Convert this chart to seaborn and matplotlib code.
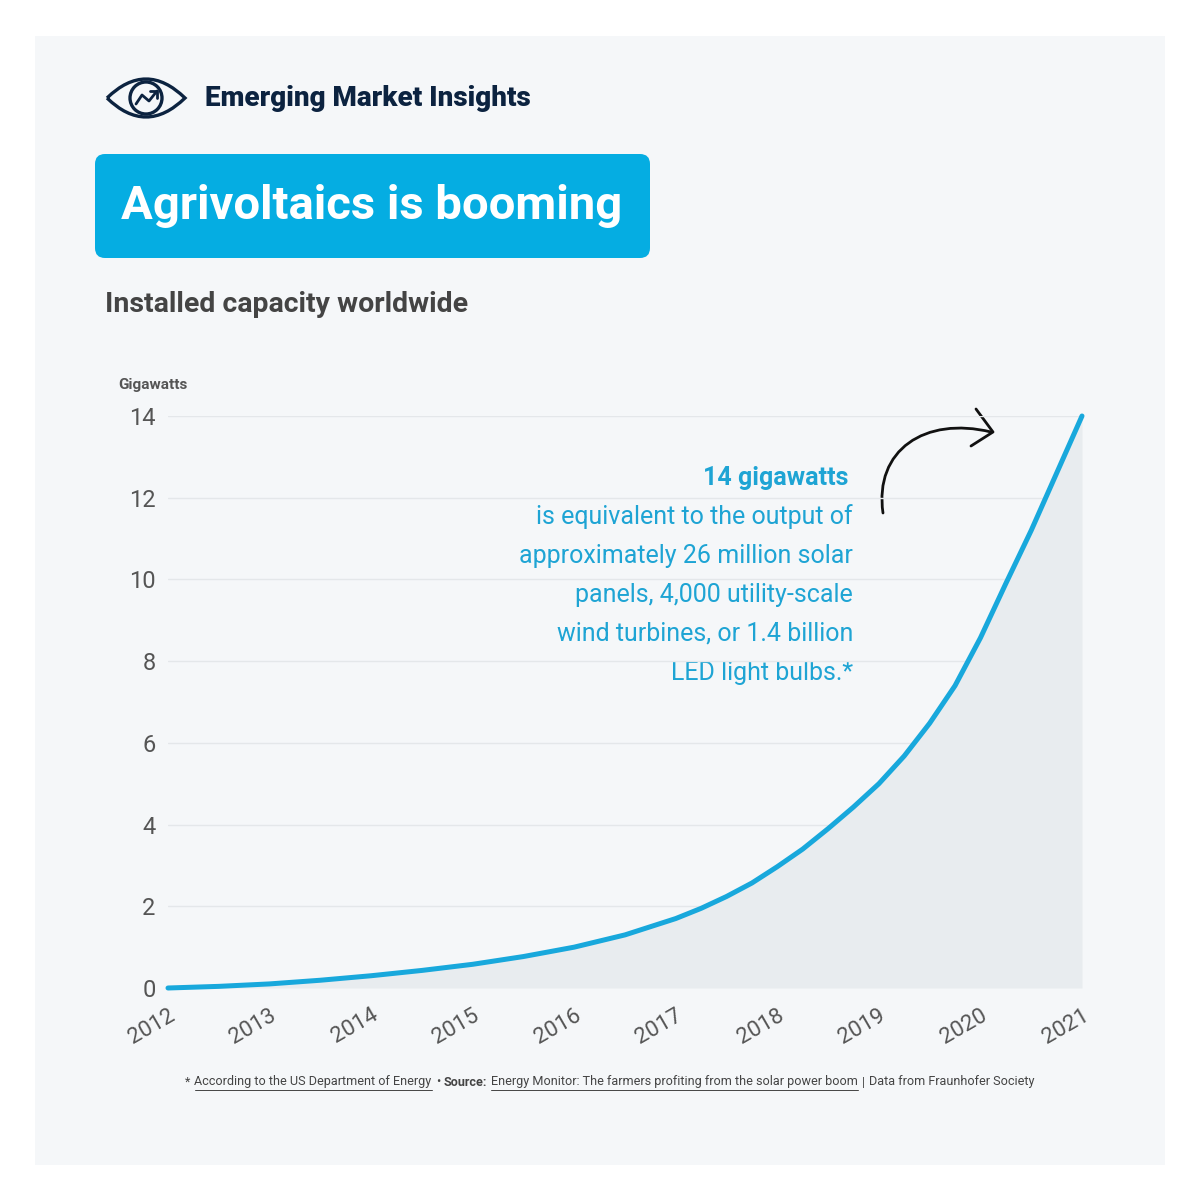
import numpy as np
import pandas as pd
import matplotlib
matplotlib.use("Agg")
import matplotlib.pyplot as plt
import seaborn as sns
from matplotlib.patches import FancyBboxPatch, Circle, PathPatch, Rectangle
from matplotlib.path import Path

# --- data (gigawatts) ---
years = [2012, 2012.5, 2013, 2013.5, 2014, 2014.5, 2015, 2015.5, 2016, 2016.5,
         2017, 2017.25, 2017.5, 2017.75, 2018, 2018.25, 2018.5, 2018.75,
         2019, 2019.25, 2019.5, 2019.75, 2020, 2020.25, 2020.5, 2020.75, 2021]
capacity_gw = [0.0, 0.04, 0.1, 0.19, 0.3, 0.43, 0.58, 0.77, 1.0, 1.3,
               1.7, 1.95, 2.24, 2.57, 2.97, 3.4, 3.9, 4.43,
               5.0, 5.68, 6.48, 7.4, 8.57, 9.9, 11.2, 12.6, 14.0]
year_ticks = list(range(2012, 2022))
gw_ticks = list(range(0, 15, 2))

brand = "Emerging Market Insights"
title = "Agrivoltaics is booming"
subtitle = "Installed capacity worldwide"
unit_label = "Gigawatts"
note_head = "14 gigawatts"
note_lines = ["is equivalent to the output of",
              "approximately 26 million solar",
              "panels, 4,000 utility-scale",
              "wind turbines, or 1.4 billion",
              "LED light bulbs.*"]
# (text, bold, underlined)
footer_parts = [("*", False, False),
                ("According to the US Department of Energy", False, True),
                ("•", False, False),
                ("Source:", True, False),
                ("Energy Monitor: The farmers profiting from the solar power boom", False, True),
                ("|", False, False),
                ("Data from Fraunhofer Society", False, False)]

# --- colours / fonts ---
NAVY = "#0c2340"
BLUE = "#05ade2"
LINE = "#18a8dc"
NOTE = "#1ea4d4"
GREY = "#555555"
PANEL = "#f5f7f9"
ROBOTO = ["Roboto", "DejaVu Sans"]

sns.set_theme(style="white")
plt.rcParams["font.family"] = ROBOTO

fig = plt.figure(figsize=(12, 12), dpi=100)
fig.patch.set_facecolor("white")

# full-figure overlay in pixel coordinates (y down)
bg = fig.add_axes([0, 0, 1, 1])
bg.set_xlim(0, 1200)
bg.set_ylim(1200, 0)
bg.axis("off")
bg.set_zorder(0)
bg.add_patch(Rectangle((35, 36), 1130, 1129, color=PANEL, lw=0))

# --- logo ---
eye = Path([(107, 98), (146, 60), (185, 98), (146, 136), (107, 98)],
           [Path.MOVETO, Path.CURVE3, Path.CURVE3, Path.CURVE3, Path.CURVE3])
bg.add_patch(PathPatch(eye, fill=False, ec=NAVY, lw=2.4, joinstyle="miter"))
bg.add_patch(Circle((146, 98), 16, fill=False, ec=NAVY, lw=2.4))
bg.plot([136, 142, 149, 157], [104, 95, 101, 91], color=NAVY, lw=2.0, solid_capstyle="round")
bg.plot([150, 157, 157], [91, 91, 98], color=NAVY, lw=2.0, solid_capstyle="round")
bg.text(205, 98, brand, fontsize=20, weight="heavy", color=NAVY, va="center", ha="left")

# --- title box ---
bg.add_patch(FancyBboxPatch((95, 154), 555, 104, boxstyle="round,pad=0,rounding_size=10",
                            fc=BLUE, ec="none"))
bg.text(372, 206, title, fontsize=34, weight="bold", color="white", ha="center", va="center")
bg.text(105, 305, subtitle, fontsize=20.5, weight="bold", color="#444444", ha="left", va="center")
bg.text(118, 385, unit_label, fontsize=11, weight="bold", color=GREY, ha="left", va="center")

# --- chart ---
ax = fig.add_axes([168 / 1200, 1 - 988 / 1200, (1082 - 168) / 1200, (988 - 416) / 1200])
ax.set_zorder(1)
ax.patch.set_alpha(0)

df = pd.DataFrame({"year": years, "gw": capacity_gw})
ax.fill_between(df["year"], df["gw"], color="#e8ecef", lw=0)
sns.lineplot(data=df, x="year", y="gw", ax=ax, color=LINE, lw=3.6,
             solid_capstyle="round", solid_joinstyle="round", clip_on=False)

ax.set_xlim(2012, 2021)
ax.set_ylim(0, 14)
ax.set_xticks(year_ticks)
ax.set_yticks(gw_ticks)
ax.set_xticklabels([str(y) for y in year_ticks], rotation=30, ha="right",
                   rotation_mode="anchor", fontsize=16, color=GREY)
ax.set_yticklabels([str(v) for v in gw_ticks], fontsize=17, color=GREY)
ax.set_xlabel("")
ax.set_ylabel("")
ax.yaxis.grid(True, color="#e4e7ea", lw=1)
ax.xaxis.grid(False)
for s in ax.spines.values():
    s.set_visible(False)
ax.tick_params(axis="y", length=0, pad=9)
ax.tick_params(axis="x", length=5, color="#e2e5e8", pad=7)

# --- annotation ---
bg.text(848, 478, note_head, fontsize=18, weight="bold", color=NOTE, ha="right", va="center",
        zorder=3)
for i, line in enumerate(note_lines):
    bg.text(853, 517 + 39 * i, line, fontsize=18, color=NOTE, ha="right", va="center", zorder=3)

arrow = Path([(883, 513), (874, 450), (925, 416), (991, 432)],
             [Path.MOVETO, Path.CURVE4, Path.CURVE4, Path.CURVE4])
bg.add_patch(PathPatch(arrow, fill=False, ec="#111111", lw=2.0, capstyle="round"))
bg.plot([976, 993, 971], [409, 432, 446], color="#111111", lw=2.0, solid_capstyle="round")

# --- footer, laid out piece by piece ---
renderer = fig.canvas.get_renderer()
texts = []
for piece, bold, under in footer_parts:
    t = bg.text(0, 1082, piece, fontsize=9.1, weight="bold" if bold else "normal",
                color="#444444", ha="left", va="center")
    texts.append((t, t.get_window_extent(renderer).width, under))
gap = 4
total = sum(w for _, w, _ in texts) + gap * (len(texts) - 1)
x = 610 - total / 2
for t, w, under in texts:
    t.set_x(x)
    if under:
        bg.plot([x, x + w], [1090, 1090], color="#444444", lw=0.7)
    x += w + gap

fig.savefig("out.png", dpi=100, facecolor="white")
